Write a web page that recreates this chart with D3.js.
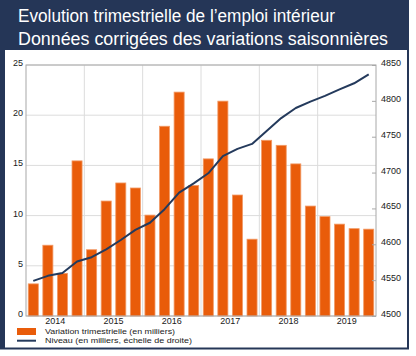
<!DOCTYPE html>
<html><head><meta charset="utf-8">
<script src="https://cdn.jsdelivr.net/npm/d3@7"></script>
<style>body{margin:0;background:#fff}svg{display:block}</style>
</head><body>
<script>
const years = ["2014","2015","2016","2017","2018","2019"];
const quarters = ["2014T1","2014T2","2014T3","2014T4","2015T1","2015T2","2015T3","2015T4","2016T1","2016T2","2016T3","2016T4","2017T1","2017T2","2017T3","2017T4","2018T1","2018T2","2018T3","2018T4","2019T1","2019T2","2019T3","2019T4"];
const variation = [3.2,7.05,4.25,15.45,6.6,11.45,13.25,12.75,10.05,18.9,22.3,13.0,15.65,21.4,12.05,7.65,17.5,17.0,15.15,10.95,9.9,9.15,8.7,8.65];
const niveau = [4549,4556,4560,4576,4582,4593,4606,4620,4630,4649,4672,4685,4699,4723,4733,4740,4758,4776,4790,4799,4807,4816,4824.5,4837];
const leftTicks = [0,5,10,15,20,25];
const rightTicks = [4500,4550,4600,4650,4700,4750,4800,4850];
const titleLines = ["Evolution trimestrielle de l\u2019emploi intérieur","Données corrigées des variations saisonnières"];
const legendLabels = ["Variation trimestrielle (en milliers)","Niveau (en milliers, échelle de droite)"];

const W=416,H=356;
const svg=d3.select("body").append("svg").attr("width",W).attr("height",H);
const navy="#253657", orange="#e95c0a", lineCol="#243a5c";
const L=26,R=376,T=65,B=316;

// frame
svg.append("rect").attr("x",0).attr("y",0).attr("width",409).attr("height",349.5).attr("fill",navy);
svg.append("rect").attr("x",5).attr("y",50).attr("width",402).attr("height",297.5).attr("fill","#fff");

// title
titleLines.forEach((t,i)=>{
  svg.append("text").attr("x",18).attr("y",i===0?21.5:45)
    .attr("fill","#fff").attr("font-family","Liberation Sans, Arial, sans-serif")
    .attr("font-size",18).attr("textLength",i===0?317:370).attr("lengthAdjust","spacingAndGlyphs")
    .text(t);
});

const x=d3.scaleBand().domain(quarters).range([L,R]).paddingInner(0.31).paddingOuter(0.155);
const xYear=d3.scaleBand().domain(years).range([L,R]);
const yL=d3.scaleLinear().domain([0,25]).range([B,T]);
const yR=d3.scaleLinear().domain([4500,4850]).range([B,T]);

// gridlines
const g=svg.append("g");
g.selectAll(".hg").data(leftTicks).enter().append("line")
  .attr("x1",L).attr("x2",R).attr("y1",d=>yL(d)).attr("y2",d=>yL(d))
  .attr("stroke","#dcdcdc").attr("stroke-width",1);
g.selectAll(".vg").data(years.slice(1)).enter().append("line")
  .attr("x1",d=>xYear(d)).attr("x2",d=>xYear(d)).attr("y1",T).attr("y2",B)
  .attr("stroke","#dcdcdc").attr("stroke-width",1);

// bars
svg.append("g").selectAll("rect").data(variation).enter().append("rect")
  .attr("x",(d,i)=>x(quarters[i])).attr("width",x.bandwidth())
  .attr("y",d=>yL(d)).attr("height",d=>yL(0)-yL(d))
  .attr("fill",orange).attr("stroke","#f29a66").attr("stroke-width",0.8);

// plot border
svg.append("rect").attr("x",L).attr("y",T).attr("width",R-L).attr("height",B-T)
  .attr("fill","none").attr("stroke","#a8a8a8").attr("stroke-width",1);

// line
const line=d3.line().x((d,i)=>x(quarters[i])+x.bandwidth()/2).y(d=>yR(d));
svg.append("path").datum(niveau).attr("d",line).attr("fill","none")
  .attr("stroke",lineCol).attr("stroke-width",2).attr("stroke-linejoin","round");

const font="Liberation Sans, Arial, sans-serif";
// left axis
const la=svg.append("g").attr("transform",`translate(${L-3},0)`)
  .call(d3.axisLeft(yL).tickValues(leftTicks).tickSize(0).tickPadding(0));
la.select(".domain").remove();
la.selectAll("text").attr("font-family",font).attr("font-size",9).attr("fill","#1a1a1a").attr("dy","0.05em");

// right axis
const ra=svg.append("g").attr("transform",`translate(${R},0)`)
  .call(d3.axisRight(yR).tickValues(rightTicks).tickFormat(d3.format("d")).tickSizeInner(-4).tickSizeOuter(0).tickPadding(5));
ra.select(".domain").remove();
ra.selectAll("line").attr("stroke","#a8a8a8");
ra.selectAll("text").attr("font-family",font).attr("font-size",9).attr("fill","#1a1a1a").attr("dy","0.05em");

// bottom axis
const ba=svg.append("g").attr("transform",`translate(0,${B})`)
  .call(d3.axisBottom(xYear).tickSize(0).tickPadding(2));
ba.select(".domain").remove();
ba.selectAll("text").attr("font-family",font).attr("font-size",9).attr("fill","#1a1a1a");

// legend
svg.append("rect").attr("x",17).attr("y",328).attr("width",19).attr("height",7).attr("fill",orange);
svg.append("line").attr("x1",17).attr("x2",36).attr("y1",340.7).attr("y2",340.7).attr("stroke",lineCol).attr("stroke-width",2);
svg.append("text").attr("x",45).attr("y",334.3).attr("font-family",font).attr("font-size",7.5).attr("fill","#1a1a1a")
  .attr("textLength",130).attr("lengthAdjust","spacingAndGlyphs").text(legendLabels[0]);
svg.append("text").attr("x",45).attr("y",342.6).attr("font-family",font).attr("font-size",7.5).attr("fill","#1a1a1a")
  .attr("textLength",147).attr("lengthAdjust","spacingAndGlyphs").text(legendLabels[1]);
</script>
</body></html>
